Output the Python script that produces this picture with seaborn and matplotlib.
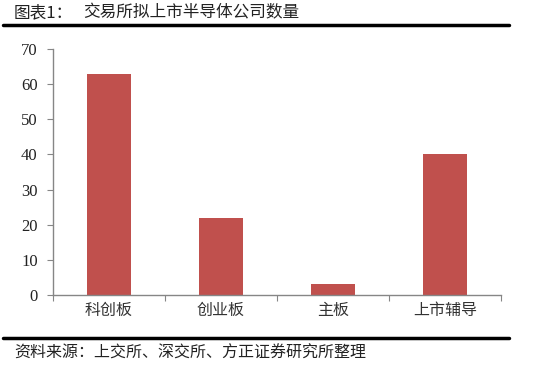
import seaborn as sns
import matplotlib.pyplot as plt
import matplotlib.lines as mlines
import pandas as pd

categories = ['科创板', '创业板', '主板', '上市辅导']
counts = [63, 22, 3, 40]
title_no = '图表1：'
title = '交易所拟上市半导体公司数量'
source = '资料来源：上交所、深交所、方正证券研究所整理'

sns.set_style('white')
plt.rcParams['font.family'] = ['Noto Sans CJK SC', 'DejaVu Sans']

df = pd.DataFrame({'cat': categories, 'n': counts})

fig = plt.figure(figsize=(5.45, 3.65), dpi=100)
ax = fig.add_axes([53 / 545, 1 - 295 / 365, 448 / 545, 246 / 365])

sns.barplot(data=df, x='cat', y='n', color='#C0504D', saturation=1, width=0.4,
            linewidth=0, ax=ax)

ax.set_ylim(0, 70)
ax.set_xlim(-0.5, len(categories) - 0.5)
ax.set_yticks(range(0, 71, 10))
ax.set_yticklabels([str(v) for v in range(0, 71, 10)], family='Liberation Serif', fontsize=12)
# boundary ticks on major, category names on minor
ax.set_xticks([i + 0.5 for i in range(-1, len(categories))])
ax.set_xticklabels([''] * (len(categories) + 1))
ax.set_xticks(range(len(categories)), minor=True)
ax.set_xticklabels(categories, minor=True, fontsize=11.5, color='#333333')
ax.tick_params(axis='x', which='minor', length=0, pad=5)
ax.tick_params(axis='x', which='major', length=4, color='#868686', direction='out', bottom=True)
ax.tick_params(axis='y', length=4, color='#868686', direction='out', pad=7,
               labelcolor='#222222', left=True)
ax.set_xlabel('')
ax.set_ylabel('')
for s in ['top', 'right']:
    ax.spines[s].set_visible(False)
for s in ['left', 'bottom']:
    ax.spines[s].set_color('#868686')
    ax.spines[s].set_linewidth(1)

fig.text(14 / 545, 1 - 13 / 365, title_no, fontsize=12, va='center', ha='left', color='#222222')
fig.text(83 / 545, 1 - 13 / 365, title, fontsize=12, va='center', ha='left', color='#222222')
fig.add_artist(mlines.Line2D([3 / 545, 509 / 545], [1 - 25 / 365, 1 - 25 / 365], color='black', lw=2.5))
fig.add_artist(mlines.Line2D([3 / 545, 509 / 545], [1 - 338 / 365, 1 - 338 / 365], color='black', lw=2.5))
fig.text(14 / 545, 1 - 353 / 365, source, fontsize=11.5, va='center', ha='left', color='#222222',
         style='italic')

fig.savefig('out.png', dpi=100, facecolor='white')
